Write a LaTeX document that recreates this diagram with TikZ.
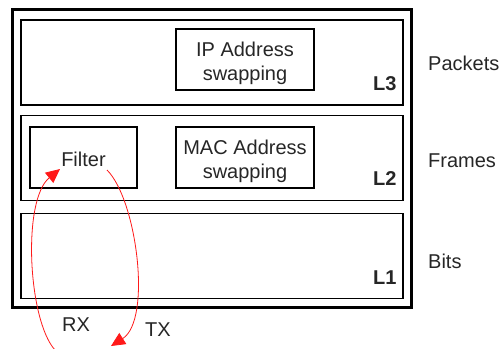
\documentclass[tikz,border=0pt]{standalone}
\usepackage{fontspec}
\setmainfont{Liberation Sans}
\usepackage{tikz}
\usetikzlibrary{positioning,arrows.meta}
\def\LayerWidth{382pt}
\def\LayerHeight{85pt}
\def\BoxHeight{61pt}

\begin{document}
\begin{tikzpicture}[x=1pt,y=-1pt,
  every node/.style={font=\fontsize{20}{24}\selectfont,text=black!85},
  layer/.style={draw,line width=1.3pt,minimum width=\LayerWidth,minimum height=\LayerHeight,inner sep=0pt},
  func/.style={draw,line width=1.3pt,minimum height=\BoxHeight,inner sep=0pt},
  ftext/.style={yshift=-3.5pt,align=center},
  lname/.style={font=\fontsize{20}{24}\selectfont\bfseries,inner sep=0pt,anchor=base east},
  unit/.style={inner sep=0pt,anchor=west},
  flow/.style={red!90,line width=0.8pt,-{Triangle[length=14pt,width=13pt]}}]
  \useasboundingbox (0,0) rectangle (502,348);
  % chassis and layers
  \node[draw,line width=3pt,minimum width=399pt,minimum height=298pt] (chassis) at (211.5,158) {};
  \node[layer] (l3) at (212,62.5) {};
  \node[layer,below=9pt of l3] (l2) {};
  \node[layer,below=12pt of l2] (l1) {};
  %
  \node[func,minimum width=138pt,label={[ftext]center:{IP Address\\swapping}}] (ip) at (245,59.5) {};
  \node[func,minimum width=138pt,label={[ftext]center:{MAC Address\\swapping}}] (mac) at (245,157.5) {};
  \node[func,minimum width=107pt,label={[ftext,yshift=2pt]center:Filter}] (filter) at (83.5,157.5) {};
  %
  \node[lname] (n3) at ([xshift=-7pt,yshift=15pt]l3.south east) {L3};
  \node[lname] (n2) at ([xshift=-7pt,yshift=15pt]l2.south east) {L2};
  \node[lname] (n1) at ([xshift=-7pt,yshift=15pt]l1.south east) {L1};
  %
  \node[unit] (packets) at (428,63) {Packets};
  \node[unit] (frames) at (428,161) {Frames};
  \node[unit] (bits) at (428,261) {Bits};
  % rx / tx
  \coordinate (rxin) at (55,350);
  \coordinate (rxend) at (60,169);
  \coordinate (txstart) at (107,170);
  \coordinate (txout) at (111,346);
  \draw[flow] (rxin) .. controls (28,320) and (22,200) .. (rxend);
  \draw[flow] (txstart) .. controls (137,200) and (152,320) .. (txout);
  \node (rx) at (76,325) {RX};
  \node (tx) at (158,330) {TX};
\end{tikzpicture}
\end{document}
